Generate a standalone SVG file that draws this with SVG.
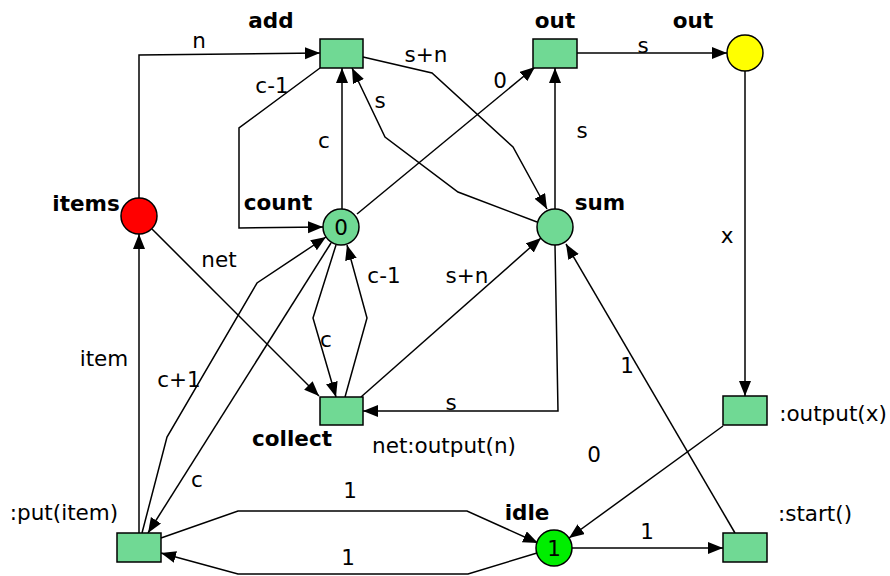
<svg xmlns="http://www.w3.org/2000/svg" width="890" height="576" viewBox="0 0 890 576">
<style>
text{font-family:"DejaVu Sans","Liberation Sans",sans-serif;font-size:21.5px;fill:#000;text-anchor:middle}
.b{font-weight:bold}
.t{fill:#70d994;stroke:#000;stroke-width:1.5}
.p{stroke:#000;stroke-width:1.5}
.e{fill:none;stroke:#000;stroke-width:1.5;marker-end:url(#ah)}
</style>
<defs>
<marker id="ah" markerUnits="userSpaceOnUse" markerWidth="16" markerHeight="13" refX="15" refY="6" orient="auto">
<path d="M0,0 L15,6 L0,12 z" fill="#000"/>
</marker>
</defs>
<rect width="890" height="576" fill="#fff"/>
<g id="connectors">
<path class="e" d="M139,198 L139,55 L320,53"/>
<path class="e" d="M320,68 L239,128 L239,228 L323,227"/>
<path class="e" d="M342,209 L342,68"/>
<path class="e" d="M537,222 L458,192 L385,137 L352,68"/>
<path class="e" d="M363,57 L432,73 L513,147 L547,209"/>
<path class="e" d="M357,214 L535,67"/>
<path class="e" d="M555,209 L555,68"/>
<path class="e" d="M577,53 L727,53"/>
<path class="e" d="M745,71 L745,396"/>
<path class="e" d="M723,426 L569,538"/>
<path class="e" d="M735,533 L566,244"/>
<path class="e" d="M572,548 L723,548"/>
<path class="e" d="M161,538 L238,511 L467,511 L538,543"/>
<path class="e" d="M537,553 L468,574 L238,574 L161,553"/>
<path class="e" d="M139,533 L139,234"/>
<path class="e" d="M142,533 L167,437 L257,283 L326,237"/>
<path class="e" d="M331,243 L148,533"/>
<path class="e" d="M152,229 L319,396"/>
<path class="e" d="M336,245 L313,318 L336,397"/>
<path class="e" d="M345,397 L367,318 L347,245"/>
<path class="e" d="M361,397 L541,238"/>
<path class="e" d="M555,245 L558,411 L363,411"/>
</g>
<g id="edge-labels">
<text x="199" y="48">n</text>
<text x="272" y="93">c-1</text>
<text x="324" y="148">c</text>
<text x="380" y="108">s</text>
<text x="426" y="62">s+n</text>
<text x="500" y="88">0</text>
<text x="643" y="53">s</text>
<text x="582" y="138">s</text>
<text x="727" y="243">x</text>
<text x="627" y="373">1</text>
<text x="647" y="539">1</text>
<text x="594" y="462">0</text>
<text x="451" y="410">s</text>
<text x="350" y="498">1</text>
<text x="348" y="565">1</text>
<text x="197" y="487">c</text>
<text x="104" y="366">item</text>
<text x="179" y="387">c+1</text>
<text x="219" y="267">net</text>
<text x="326" y="347">c</text>
<text x="384" y="283">c-1</text>
<text x="467" y="283">s+n</text>
</g>
<g id="add"><rect class="t" x="320" y="39" width="43" height="29"/><text class="b" x="271" y="28">add</text></g>
<g id="out-t"><rect class="t" x="533" y="39" width="44" height="29"/><text class="b" x="555" y="28">out</text></g>
<g id="out-p"><circle class="p" cx="745" cy="53" r="18" fill="#ffff00"/><text class="b" x="693" y="28">out</text></g>
<g id="items"><circle class="p" cx="139" cy="216" r="18" fill="#ff0000"/><text class="b" x="86" y="211">items</text></g>
<g id="count"><circle class="p" cx="341" cy="227" r="18" fill="#70d994"/><text x="341" y="235">0</text><text class="b" x="278" y="210">count</text></g>
<g id="sum"><circle class="p" cx="555" cy="227" r="18" fill="#70d994"/><text class="b" x="600" y="210">sum</text></g>
<g id="collect"><rect class="t" x="320" y="397" width="43" height="28"/><text class="b" x="292" y="446">collect</text><text x="444" y="453">net:output(n)</text></g>
<g id="output"><rect class="t" x="723" y="396" width="44" height="29"/><text x="833" y="421">:output(x)</text></g>
<g id="start"><rect class="t" x="723" y="533" width="44" height="29"/><text x="815" y="521">:start()</text></g>
<g id="idle"><circle class="p" cx="554" cy="548" r="18" fill="#00ee00"/><text x="554" y="556">1</text><text class="b" x="527" y="520">idle</text></g>
<g id="put"><rect class="t" x="117" y="533" width="44" height="29"/><text x="64" y="520">:put(item)</text></g>
</svg>
